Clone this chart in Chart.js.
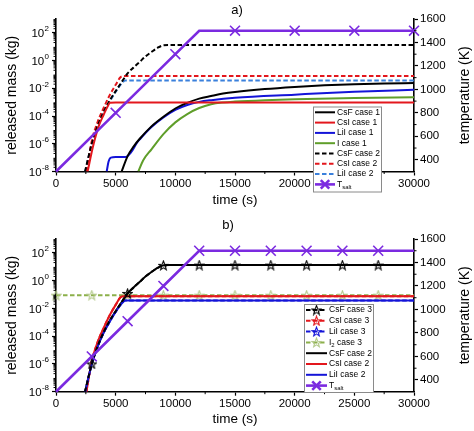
<!DOCTYPE html>
<html>
<head>
<meta charset="utf-8">
<script src="https://cdn.jsdelivr.net/npm/chart.js@4.4.1/dist/chart.umd.min.js"></script>
<style>
  html, body { margin: 0; padding: 0; background: #fff; }
  canvas { display: block; }
</style>
</head>
<body>
<canvas id="chartA" width="474" height="215"></canvas>
<canvas id="chartB" width="474" height="216"></canvas>
<script>
// ============ axes ============
const X_MAJOR = [0, 5000, 10000, 15000, 20000, 25000, 30000];
const X_MINOR = [2500, 7500, 12500, 17500, 22500, 27500];
const T_MAJOR = [400, 600, 800, 1000, 1200, 1400, 1600];
const T_MINOR = [500, 700, 900, 1100, 1300, 1500];
const MASS_DECADES = [1e-8, 1e-7, 1e-6, 1e-5, 1e-4, 1e-3, 1e-2, 1e-1, 1, 10, 100, 1000];
const MASS_LABEL_EXP = [-8, -6, -4, -2, 0, 2];

// ============ released mass (kg) ============
// case 2 (dashed in a, solid in b)
const tCsF2 = [2430, 3000, 3500, 4000, 4500, 5000, 5500, 6000, 6500, 7000, 7500, 8000, 8500, 9000, 9500, 12000, 15000, 18000, 21000, 24000, 27000, 30000];
const mCsF2 = [1e-8, 1.0e-6, 2.0e-5, 2.0e-4, 1.3e-3, 6.3e-3, 2.8e-2, 0.12, 0.32, 0.79, 2.0, 4.2, 8.3, 12.6, 13.2, 13.2, 13.2, 13.2, 13.2, 13.2, 13.2, 13.2];
const tCsI2 = [2550, 3000, 3500, 4000, 4500, 5000, 5400, 5700, 6000, 9000, 12000, 15000, 18000, 21000, 24000, 27000, 30000];
const mCsI2 = [1e-8, 1.6e-6, 4.0e-5, 4.0e-4, 3.2e-3, 1.8e-2, 6.3e-2, 7.6e-2, 7.6e-2, 7.6e-2, 7.6e-2, 7.6e-2, 7.6e-2, 7.6e-2, 7.6e-2, 7.6e-2, 7.6e-2];
const tLiI2 = [2450, 3000, 3500, 4000, 4500, 5000, 5500, 5800, 6000, 9000, 12000, 15000, 18000, 21000, 24000, 27000, 30000];
const mLiI2 = [1e-8, 1.0e-6, 1.8e-5, 1.8e-4, 1.1e-3, 5.6e-3, 2.2e-2, 3.7e-2, 3.7e-2, 3.7e-2, 3.7e-2, 3.7e-2, 3.7e-2, 3.7e-2, 3.7e-2, 3.7e-2, 3.7e-2];

// case 1 (panel a)
const tCsF1 = [5500, 6000, 6500, 7000, 8000, 9000, 10000, 11000, 12000, 13000, 14000, 15000, 17500, 20000, 22500, 25000, 27500, 30000];
const mCsF1 = [1e-8, 1.3e-7, 6.3e-7, 2.2e-6, 1.8e-5, 8.9e-5, 3.5e-4, 8.9e-4, 1.8e-3, 2.8e-3, 4.2e-3, 5.5e-3, 8.9e-3, 1.26e-2, 1.66e-2, 2.0e-2, 2.24e-2, 2.4e-2];
const tCsI1 = [2650, 3100, 3550, 4000, 4300, 4530, 5000, 10000, 15000, 20000, 25000, 30000];
const mCsI1 = [1e-8, 6.3e-7, 1.6e-5, 1.3e-4, 4.5e-4, 9.0e-4, 9.5e-4, 9.5e-4, 9.5e-4, 9.5e-4, 9.5e-4, 9.5e-4];
const tLiI1 = [4250, 4400, 4600, 5000, 5800, 6300, 6800, 7000, 8000, 9000, 10000, 11000, 12000, 13000, 15000, 20000, 25000, 30000];
const mLiI1 = [1e-8, 5e-8, 1.0e-7, 1.1e-7, 1.1e-7, 2.5e-7, 1.26e-6, 2.0e-6, 1.6e-5, 7.9e-5, 2.8e-4, 6.3e-4, 1.05e-3, 1.4e-3, 2.1e-3, 3.5e-3, 5.6e-3, 7.9e-3];
const tI1 = [6900, 7300, 8000, 9000, 10000, 11000, 12000, 13000, 14000, 15000, 17500, 20000, 25000, 30000];
const mI1 = [1e-8, 6.3e-8, 4.0e-7, 5.0e-6, 3.5e-5, 1.4e-4, 3.8e-4, 7.1e-4, 9.5e-4, 1.1e-3, 1.4e-3, 1.66e-3, 2.0e-3, 2.3e-3];

// I2 case 3 (panel b)
const tI2 = [0, 3000, 6000, 9000, 12000, 15000, 18000, 21000, 24000, 27000, 30000];
const mI2 = [0.09, 0.09, 0.09, 0.09, 0.09, 0.09, 0.09, 0.09, 0.09, 0.09, 0.09];

// salt temperature (K)
const tSaltA = [0, 5000, 10000, 12000, 15000, 20000, 25000, 30000];
const kSaltA = [300, 800, 1300, 1500, 1500, 1500, 1500, 1500];
const tSaltB = [0, 3000, 6000, 9000, 12000, 15000, 18000, 21000, 24000, 27000, 30000];
const kSaltB = [300, 600, 900, 1200, 1500, 1500, 1500, 1500, 1500, 1500, 1500];

// marker times
const MARK_SALT_A = [5000, 10000, 15000, 20000, 25000, 30000];
const MARK_B = [3000, 6000, 9000, 12000, 15000, 18000, 21000, 24000, 27000];
const MARK_I2 = [0, 3000, 6000, 9000, 12000, 15000, 18000, 21000, 24000, 27000];

// ============ styles ============
const C_BLACK = '#000000';
const C_RED = '#e3171d';
const C_BLUE = '#1414d8';
const C_LBLUE = '#3a80dc';
const C_GREEN = '#5f9e2a';
const C_I2 = '#8cb04a';
const C_I2_MARK = '#b3c98a';
const C_PURPLE = '#7b2ae0';
const DASH = [4.5, 2.5];
const FONT = '"Liberation Sans", Arial, sans-serif';

Chart.defaults.font.family = FONT;
Chart.defaults.color = '#000';

function starImage(stroke) {
  const s = 11, c = document.createElement('canvas');
  c.width = s; c.height = s;
  const g = c.getContext('2d');
  g.beginPath();
  for (let i = 0; i < 10; i++) {
    const r = i % 2 ? 2.0 : 4.8;
    const a = -Math.PI / 2 + i * Math.PI / 5;
    const x = s / 2 + r * Math.cos(a), y = s / 2 + 0.4 + r * Math.sin(a);
    if (i) g.lineTo(x, y); else g.moveTo(x, y);
  }
  g.closePath();
  g.strokeStyle = stroke; g.lineWidth = 1.1; g.stroke();
  return c;
}
const STAR_BLACK = starImage(C_BLACK);
const STAR_RED = starImage(C_RED);
const STAR_BLUE = starImage(C_BLUE);
const STAR_I2 = starImage(C_I2_MARK);

const pts = (ts, vs) => ts.map((t, i) => ({ x: t, y: vs[i] }));

function line(ts, vs, color, opts) {
  return Object.assign({
    data: pts(ts, vs),
    borderColor: color,
    backgroundColor: color,
    borderWidth: 2,
    fill: false,
    pointRadius: 0,
    cubicInterpolationMode: 'monotone',
    yAxisID: 'y'
  }, opts || {});
}

function marked(times, r) {
  const set = new Set(times);
  return c => (c.raw && set.has(c.raw.x)) ? r : 0;
}

function salt(ts, ks, marks) {
  return line(ts, ks, C_PURPLE, {
    yAxisID: 'y2', borderWidth: 2.6, cubicInterpolationMode: 'default', tension: 0,
    pointStyle: 'crossRot', pointRadius: marked(marks, 7), pointBorderWidth: 1.6,
    pointBorderColor: C_PURPLE, clip: false
  });
}

// ============ axis decoration, labels and legend ============
function drawLabel(ctx, text, x, y, size) {
  const i = text.indexOf('_');
  ctx.textAlign = 'left'; ctx.textBaseline = 'middle';
  ctx.font = size + 'px ' + FONT;
  if (i < 0) { ctx.fillText(text, x, y); return; }
  const before = text.slice(0, i);
  let j = text.indexOf(' ', i);
  if (j < 0) j = text.length;
  const sub = text.slice(i + 1, j), rest = text.slice(j);
  ctx.fillText(before, x, y);
  x += ctx.measureText(before).width;
  ctx.font = (size * 0.7) + 'px ' + FONT;
  ctx.fillText(sub, x, y + 2.5);
  x += ctx.measureText(sub).width;
  ctx.font = size + 'px ' + FONT;
  ctx.fillText(rest, x, y);
}

function makeDecor(cfg) {
  return {
    id: 'decor',
    afterDraw(chart) {
      const ctx = chart.ctx, ca = chart.chartArea;
      const xs = chart.scales.x, ys = chart.scales.y, y2 = chart.scales.y2;
      ctx.save();
      // minor ticks
      ctx.strokeStyle = '#000'; ctx.lineWidth = 1; ctx.setLineDash([]);
      ctx.beginPath();
      X_MINOR.forEach(v => { const p = xs.getPixelForValue(v); ctx.moveTo(p, ca.bottom); ctx.lineTo(p, ca.bottom + 2.5); });
      for (let e = -8; e < 3; e++) {
        for (let m = 2; m < 10; m++) {
          const p = ys.getPixelForValue(m * Math.pow(10, e));
          ctx.moveTo(ca.left, p); ctx.lineTo(ca.left - 2.5, p);
        }
      }
      T_MINOR.forEach(v => { const p = y2.getPixelForValue(v); ctx.moveTo(ca.right, p); ctx.lineTo(ca.right + 2.5, p); });
      ctx.stroke();

      // log labels 10^n
      ctx.fillStyle = '#000';
      ctx.textAlign = 'right'; ctx.textBaseline = 'middle';
      MASS_LABEL_EXP.forEach(e => {
        const p = ys.getPixelForValue(Math.pow(10, e));
        const sup = String(e);
        const xr = ca.left - 7;
        ctx.font = '8px ' + FONT;
        const w = ctx.measureText(sup).width;
        ctx.fillText(sup, xr, p - 4);
        ctx.font = '11.5px ' + FONT;
        ctx.fillText('10', xr - w - 0.3, p + 1);
      });

      // right title
      ctx.save();
      ctx.translate(cfg.rightTitleX, (ca.top + ca.bottom) / 2);
      ctx.rotate(-Math.PI / 2);
      ctx.textAlign = 'center'; ctx.textBaseline = 'middle';
      ctx.font = '14px ' + FONT;
      ctx.fillText('temperature (K)', 0, 0);
      ctx.restore();

      // panel label
      ctx.textAlign = 'center'; ctx.textBaseline = 'middle';
      ctx.font = '13px ' + FONT;
      ctx.fillText(cfg.label, cfg.labelX, cfg.labelY);

      // legend
      const L = cfg.legend;
      ctx.fillStyle = '#fff';
      ctx.fillRect(L.x, L.y, L.w, L.h);
      ctx.strokeStyle = '#8a8a8a'; ctx.lineWidth = 1;
      ctx.strokeRect(L.x + 0.5, L.y + 0.5, L.w - 1, L.h - 1);
      L.items.forEach((it, i) => {
        const y = L.row0 + i * L.rowH;
        ctx.strokeStyle = it.color;
        ctx.lineWidth = it.width || 2;
        ctx.setLineDash(it.dash || []);
        ctx.beginPath(); ctx.moveTo(L.sx0, y); ctx.lineTo(L.sx1, y); ctx.stroke();
        ctx.setLineDash([]);
        if (it.marker) {
          Chart.helpers.drawPoint(ctx, {
            pointStyle: it.marker, radius: it.mr || 5, borderWidth: 1.5, rotation: 0
          }, (L.sx0 + L.sx1) / 2, y);
        }
        ctx.fillStyle = '#000';
        drawLabel(ctx, it.label, L.tx, y, 8.5);
      });
      ctx.restore();
    }
  };
}

function scalesFor(p) {
  const grid = { drawOnChartArea: false, drawTicks: true, tickLength: 4, tickWidth: 1.2, tickColor: '#000', color: '#000' };
  const border = { display: true, color: '#000', width: 1.6 };
  return {
    x: {
      type: 'linear', min: 0, max: 30000,
      afterBuildTicks: s => { s.ticks = X_MAJOR.map(v => ({ value: v })); },
      ticks: { font: { size: 11.5 }, color: '#000', padding: 1, maxRotation: 0, autoSkip: false, callback: v => String(v) },
      grid, border,
      title: { display: true, text: 'time (s)', font: { size: 13.5 }, color: '#000', padding: { top: 0, bottom: p.xTitlePad } },
      afterFit: s => { s.height = p.xHeight; }
    },
    y: {
      type: 'logarithmic', position: 'left', min: 1e-8, max: 1e3,
      afterBuildTicks: s => { s.ticks = MASS_DECADES.map(v => ({ value: v })); },
      ticks: { callback: () => '' },
      grid, border,
      title: { display: true, text: 'released mass (kg)', font: { size: 14 }, color: '#000', padding: { top: 3.5, bottom: 0 } },
      afterFit: s => { s.width = 56; }
    },
    y2: {
      type: 'linear', position: 'right', min: 300, max: 1600,
      afterBuildTicks: s => { s.ticks = T_MAJOR.map(v => ({ value: v })); },
      ticks: { font: { size: 11.5 }, color: '#000', padding: 2, callback: v => String(v) },
      grid, border,
      afterFit: s => { s.width = 60; }
    }
  };
}

function makeChart(id, datasets, p, decor) {
  return new Chart(document.getElementById(id), {
    type: 'line',
    data: { datasets },
    options: {
      responsive: false,
      animation: false,
      events: [],
      parsing: true,
      layout: { padding: { top: p.top, left: 0, right: 0, bottom: 0 } },
      scales: scalesFor(p),
      plugins: { legend: { display: false }, tooltip: { enabled: false } }
    },
    plugins: [makeDecor(decor)]
  });
}

// ============ panel a ============
makeChart('chartA', [
  salt(tSaltA, kSaltA, MARK_SALT_A),
  line(tCsI1, mCsI1, C_RED),
  line(tCsF2, mCsF2, C_BLACK, { borderDash: DASH }),
  line(tCsI2, mCsI2, C_RED, { borderDash: DASH }),
  line(tLiI2, mLiI2, C_LBLUE, { borderDash: DASH }),
  line(tCsF1, mCsF1, C_BLACK),
  line(tLiI1, mLiI1, C_BLUE),
  line(tI1, mI1, C_GREEN)
], { top: 19, xHeight: 43.5, xTitlePad: 7 }, {
  label: 'a)', labelX: 237, labelY: 10, rightTitleX: 465,
  legend: {
    x: 313, y: 106.5, w: 69, h: 86, row0: 112.3, rowH: 10.3, sx0: 315, sx1: 335, tx: 337,
    items: [
      { label: 'CsF case 1', color: C_BLACK },
      { label: 'CsI case 1', color: C_RED },
      { label: 'LiI case 1', color: C_BLUE },
      { label: 'I case 1', color: C_GREEN },
      { label: 'CsF case 2', color: C_BLACK, dash: DASH },
      { label: 'CsI case 2', color: C_RED, dash: DASH },
      { label: 'LiI case 2', color: C_LBLUE, dash: DASH },
      { label: 'T_salt', color: C_PURPLE, width: 2.6, marker: 'crossRot', mr: 6 }
    ]
  }
});

// ============ panel b ============
makeChart('chartB', [
  salt(tSaltB, kSaltB, MARK_B),
  line(tCsF2, mCsF2, C_BLACK, { borderDash: DASH, pointStyle: STAR_BLACK, pointRadius: marked(MARK_B, 4) }),
  line(tLiI2, mLiI2, C_BLUE),
  line(tLiI2, mLiI2, C_BLUE, { borderDash: DASH }),
  line(tCsI2, mCsI2, C_RED),
  line(tCsI2, mCsI2, C_RED, { borderDash: DASH }),
  line(tCsF2, mCsF2, C_BLACK),
  line(tI2, mI2, C_I2, { borderDash: DASH, pointStyle: STAR_I2, pointRadius: marked(MARK_I2, 4), clip: false })
], { top: 24, xHeight: 39.3, xTitlePad: 4 }, {
  label: 'b)', labelX: 228, labelY: 10, rightTitleX: 465,
  legend: {
    x: 304, y: 89, w: 70, h: 89, row0: 95, rowH: 10.8, sx0: 306, sx1: 327, tx: 329,
    items: [
      { label: 'CsF case 3', color: C_BLACK, dash: DASH, marker: STAR_BLACK },
      { label: 'CsI case 3', color: C_RED, dash: DASH, marker: STAR_RED },
      { label: 'LiI case 3', color: C_BLUE, dash: DASH, marker: STAR_BLUE },
      { label: 'I_2 case 3', color: C_I2, dash: DASH, marker: STAR_I2 },
      { label: 'CsF case 2', color: C_BLACK },
      { label: 'CsI case 2', color: C_RED },
      { label: 'LiI case 2', color: C_BLUE },
      { label: 'T_salt', color: C_PURPLE, width: 2.6, marker: 'crossRot', mr: 6 }
    ]
  }
});
</script>
</body>
</html>
